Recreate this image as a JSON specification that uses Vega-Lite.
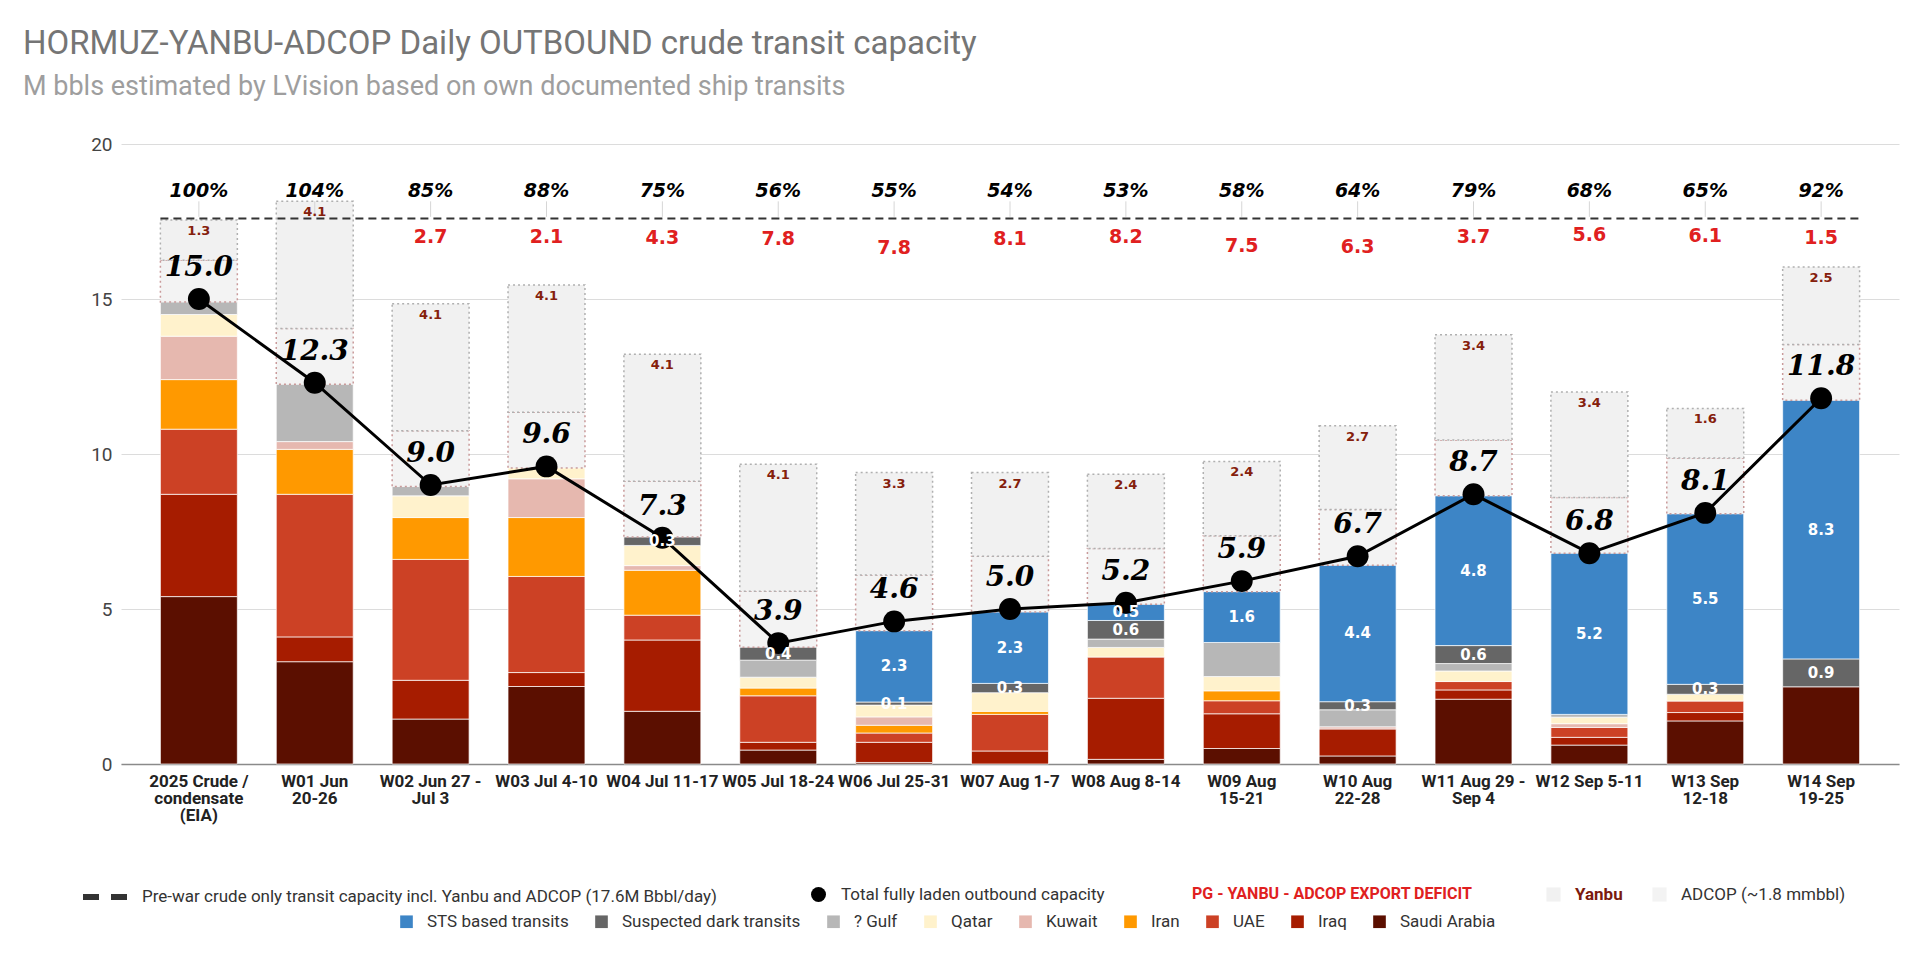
{
  "$schema": "https://vega.github.io/schema/vega-lite/v6.json",
  "width": 1778,
  "height": 620,
  "autosize": {"type": "none"},
  "padding": {"left": 121, "top": 144, "right": 21, "bottom": 192},
  "background": "white",
  "title": {
    "text": "HORMUZ-YANBU-ADCOP Daily OUTBOUND crude transit capacity",
    "subtitle": "M bbls estimated by LVision based on own documented ship transits",
    "anchor": "start",
    "frame": "group",
    "dx": -98,
    "offset": 35,
    "font": "Roboto",
    "fontSize": 33,
    "fontWeight": "normal",
    "color": "#757575",
    "subtitleFont": "Roboto",
    "subtitleFontSize": 27,
    "subtitleColor": "#9e9e9e",
    "subtitlePadding": 13
  },
  "config": {
    "view": {"stroke": null},
    "font": "Roboto",
    "legend": {"labelFont": "Roboto", "labelFontSize": 17, "labelColor": "#333333", "padding": 0, "labelLimit": 900}
  },
  "resolve": {"scale": {"color": "independent"}, "legend": {"color": "independent"}},
  "datasets": {
    "segments": [
      {"week": "2025 Crude /|condensate|(EIA)", "series": "Saudi Arabia", "value": 5.4},
      {"week": "2025 Crude /|condensate|(EIA)", "series": "Iraq", "value": 3.3},
      {"week": "2025 Crude /|condensate|(EIA)", "series": "UAE", "value": 2.1},
      {"week": "2025 Crude /|condensate|(EIA)", "series": "Iran", "value": 1.6},
      {"week": "2025 Crude /|condensate|(EIA)", "series": "Kuwait", "value": 1.4},
      {"week": "2025 Crude /|condensate|(EIA)", "series": "Qatar", "value": 0.7},
      {"week": "2025 Crude /|condensate|(EIA)", "series": "? Gulf", "value": 0.4},
      {"week": "2025 Crude /|condensate|(EIA)", "series": "ADCOP (~1.8 mmbbl)", "value": 1.35},
      {"week": "2025 Crude /|condensate|(EIA)", "series": "Yanbu", "value": 1.3},

      {"week": "W01 Jun|20-26", "series": "Saudi Arabia", "value": 3.3},
      {"week": "W01 Jun|20-26", "series": "Iraq", "value": 0.8},
      {"week": "W01 Jun|20-26", "series": "UAE", "value": 4.6},
      {"week": "W01 Jun|20-26", "series": "Iran", "value": 1.45},
      {"week": "W01 Jun|20-26", "series": "Kuwait", "value": 0.25},
      {"week": "W01 Jun|20-26", "series": "? Gulf", "value": 1.85},
      {"week": "W01 Jun|20-26", "series": "ADCOP (~1.8 mmbbl)", "value": 1.8},
      {"week": "W01 Jun|20-26", "series": "Yanbu", "value": 4.1},

      {"week": "W02 Jun 27 -|Jul 3", "series": "Saudi Arabia", "value": 1.45},
      {"week": "W02 Jun 27 -|Jul 3", "series": "Iraq", "value": 1.25},
      {"week": "W02 Jun 27 -|Jul 3", "series": "UAE", "value": 3.9},
      {"week": "W02 Jun 27 -|Jul 3", "series": "Iran", "value": 1.35},
      {"week": "W02 Jun 27 -|Jul 3", "series": "Qatar", "value": 0.7},
      {"week": "W02 Jun 27 -|Jul 3", "series": "? Gulf", "value": 0.3},
      {"week": "W02 Jun 27 -|Jul 3", "series": "ADCOP (~1.8 mmbbl)", "value": 1.8},
      {"week": "W02 Jun 27 -|Jul 3", "series": "Yanbu", "value": 4.1},
      {"week": "W02 Jun 27 -|Jul 3", "series": "PG - YANBU - ADCOP EXPORT DEFICIT", "value": 2.7},

      {"week": "W03 Jul 4-10", "series": "Saudi Arabia", "value": 2.5},
      {"week": "W03 Jul 4-10", "series": "Iraq", "value": 0.45},
      {"week": "W03 Jul 4-10", "series": "UAE", "value": 3.1},
      {"week": "W03 Jul 4-10", "series": "Iran", "value": 1.9},
      {"week": "W03 Jul 4-10", "series": "Kuwait", "value": 1.25},
      {"week": "W03 Jul 4-10", "series": "Qatar", "value": 0.35},
      {"week": "W03 Jul 4-10", "series": "ADCOP (~1.8 mmbbl)", "value": 1.8},
      {"week": "W03 Jul 4-10", "series": "Yanbu", "value": 4.1},
      {"week": "W03 Jul 4-10", "series": "PG - YANBU - ADCOP EXPORT DEFICIT", "value": 2.1},

      {"week": "W04 Jul 11-17", "series": "Saudi Arabia", "value": 1.7},
      {"week": "W04 Jul 11-17", "series": "Iraq", "value": 2.3},
      {"week": "W04 Jul 11-17", "series": "UAE", "value": 0.8},
      {"week": "W04 Jul 11-17", "series": "Iran", "value": 1.45},
      {"week": "W04 Jul 11-17", "series": "Kuwait", "value": 0.15},
      {"week": "W04 Jul 11-17", "series": "Qatar", "value": 0.65},
      {"week": "W04 Jul 11-17", "series": "Suspected dark transits", "value": 0.27},
      {"week": "W04 Jul 11-17", "series": "ADCOP (~1.8 mmbbl)", "value": 1.8},
      {"week": "W04 Jul 11-17", "series": "Yanbu", "value": 4.1},
      {"week": "W04 Jul 11-17", "series": "PG - YANBU - ADCOP EXPORT DEFICIT", "value": 4.3},

      {"week": "W05 Jul 18-24", "series": "Saudi Arabia", "value": 0.45},
      {"week": "W05 Jul 18-24", "series": "Iraq", "value": 0.25},
      {"week": "W05 Jul 18-24", "series": "UAE", "value": 1.5},
      {"week": "W05 Jul 18-24", "series": "Iran", "value": 0.25},
      {"week": "W05 Jul 18-24", "series": "Qatar", "value": 0.35},
      {"week": "W05 Jul 18-24", "series": "? Gulf", "value": 0.55},
      {"week": "W05 Jul 18-24", "series": "Suspected dark transits", "value": 0.42},
      {"week": "W05 Jul 18-24", "series": "ADCOP (~1.8 mmbbl)", "value": 1.8},
      {"week": "W05 Jul 18-24", "series": "Yanbu", "value": 4.1},
      {"week": "W05 Jul 18-24", "series": "PG - YANBU - ADCOP EXPORT DEFICIT", "value": 7.8},

      {"week": "W06 Jul 25-31", "series": "Saudi Arabia", "value": 0.05},
      {"week": "W06 Jul 25-31", "series": "Iraq", "value": 0.65},
      {"week": "W06 Jul 25-31", "series": "UAE", "value": 0.3},
      {"week": "W06 Jul 25-31", "series": "Iran", "value": 0.25},
      {"week": "W06 Jul 25-31", "series": "Kuwait", "value": 0.27},
      {"week": "W06 Jul 25-31", "series": "Qatar", "value": 0.38},
      {"week": "W06 Jul 25-31", "series": "Suspected dark transits", "value": 0.1},
      {"week": "W06 Jul 25-31", "series": "STS based transits", "value": 2.3},
      {"week": "W06 Jul 25-31", "series": "ADCOP (~1.8 mmbbl)", "value": 1.8},
      {"week": "W06 Jul 25-31", "series": "Yanbu", "value": 3.3},
      {"week": "W06 Jul 25-31", "series": "PG - YANBU - ADCOP EXPORT DEFICIT", "value": 7.8},

      {"week": "W07 Aug 1-7", "series": "Iraq", "value": 0.42},
      {"week": "W07 Aug 1-7", "series": "UAE", "value": 1.18},
      {"week": "W07 Aug 1-7", "series": "Iran", "value": 0.1},
      {"week": "W07 Aug 1-7", "series": "Qatar", "value": 0.6},
      {"week": "W07 Aug 1-7", "series": "Suspected dark transits", "value": 0.3},
      {"week": "W07 Aug 1-7", "series": "STS based transits", "value": 2.3},
      {"week": "W07 Aug 1-7", "series": "ADCOP (~1.8 mmbbl)", "value": 1.8},
      {"week": "W07 Aug 1-7", "series": "Yanbu", "value": 2.7},
      {"week": "W07 Aug 1-7", "series": "PG - YANBU - ADCOP EXPORT DEFICIT", "value": 8.1},

      {"week": "W08 Aug 8-14", "series": "Saudi Arabia", "value": 0.15},
      {"week": "W08 Aug 8-14", "series": "Iraq", "value": 1.97},
      {"week": "W08 Aug 8-14", "series": "UAE", "value": 1.33},
      {"week": "W08 Aug 8-14", "series": "Qatar", "value": 0.31},
      {"week": "W08 Aug 8-14", "series": "? Gulf", "value": 0.27},
      {"week": "W08 Aug 8-14", "series": "Suspected dark transits", "value": 0.6},
      {"week": "W08 Aug 8-14", "series": "STS based transits", "value": 0.52},
      {"week": "W08 Aug 8-14", "series": "ADCOP (~1.8 mmbbl)", "value": 1.8},
      {"week": "W08 Aug 8-14", "series": "Yanbu", "value": 2.4},
      {"week": "W08 Aug 8-14", "series": "PG - YANBU - ADCOP EXPORT DEFICIT", "value": 8.2},

      {"week": "W09 Aug|15-21", "series": "Saudi Arabia", "value": 0.5},
      {"week": "W09 Aug|15-21", "series": "Iraq", "value": 1.12},
      {"week": "W09 Aug|15-21", "series": "UAE", "value": 0.42},
      {"week": "W09 Aug|15-21", "series": "Iran", "value": 0.32},
      {"week": "W09 Aug|15-21", "series": "Qatar", "value": 0.46},
      {"week": "W09 Aug|15-21", "series": "? Gulf", "value": 1.1},
      {"week": "W09 Aug|15-21", "series": "STS based transits", "value": 1.64},
      {"week": "W09 Aug|15-21", "series": "ADCOP (~1.8 mmbbl)", "value": 1.8},
      {"week": "W09 Aug|15-21", "series": "Yanbu", "value": 2.4},
      {"week": "W09 Aug|15-21", "series": "PG - YANBU - ADCOP EXPORT DEFICIT", "value": 7.5},

      {"week": "W10 Aug|22-28", "series": "Saudi Arabia", "value": 0.26},
      {"week": "W10 Aug|22-28", "series": "Iraq", "value": 0.87},
      {"week": "W10 Aug|22-28", "series": "Kuwait", "value": 0.07},
      {"week": "W10 Aug|22-28", "series": "? Gulf", "value": 0.55},
      {"week": "W10 Aug|22-28", "series": "Suspected dark transits", "value": 0.26},
      {"week": "W10 Aug|22-28", "series": "STS based transits", "value": 4.4},
      {"week": "W10 Aug|22-28", "series": "ADCOP (~1.8 mmbbl)", "value": 1.8},
      {"week": "W10 Aug|22-28", "series": "Yanbu", "value": 2.7},
      {"week": "W10 Aug|22-28", "series": "PG - YANBU - ADCOP EXPORT DEFICIT", "value": 6.3},

      {"week": "W11 Aug 29 -|Sep 4", "series": "Saudi Arabia", "value": 2.09},
      {"week": "W11 Aug 29 -|Sep 4", "series": "Iraq", "value": 0.3},
      {"week": "W11 Aug 29 -|Sep 4", "series": "UAE", "value": 0.27},
      {"week": "W11 Aug 29 -|Sep 4", "series": "Qatar", "value": 0.34},
      {"week": "W11 Aug 29 -|Sep 4", "series": "? Gulf", "value": 0.24},
      {"week": "W11 Aug 29 -|Sep 4", "series": "Suspected dark transits", "value": 0.58},
      {"week": "W11 Aug 29 -|Sep 4", "series": "STS based transits", "value": 4.83},
      {"week": "W11 Aug 29 -|Sep 4", "series": "ADCOP (~1.8 mmbbl)", "value": 1.8},
      {"week": "W11 Aug 29 -|Sep 4", "series": "Yanbu", "value": 3.4},
      {"week": "W11 Aug 29 -|Sep 4", "series": "PG - YANBU - ADCOP EXPORT DEFICIT", "value": 3.7},

      {"week": "W12 Sep 5-11", "series": "Saudi Arabia", "value": 0.61},
      {"week": "W12 Sep 5-11", "series": "Iraq", "value": 0.25},
      {"week": "W12 Sep 5-11", "series": "UAE", "value": 0.32},
      {"week": "W12 Sep 5-11", "series": "Kuwait", "value": 0.12},
      {"week": "W12 Sep 5-11", "series": "Qatar", "value": 0.21},
      {"week": "W12 Sep 5-11", "series": "? Gulf", "value": 0.09},
      {"week": "W12 Sep 5-11", "series": "STS based transits", "value": 5.2},
      {"week": "W12 Sep 5-11", "series": "ADCOP (~1.8 mmbbl)", "value": 1.8},
      {"week": "W12 Sep 5-11", "series": "Yanbu", "value": 3.4},
      {"week": "W12 Sep 5-11", "series": "PG - YANBU - ADCOP EXPORT DEFICIT", "value": 5.6},

      {"week": "W13 Sep|12-18", "series": "Saudi Arabia", "value": 1.39},
      {"week": "W13 Sep|12-18", "series": "Iraq", "value": 0.27},
      {"week": "W13 Sep|12-18", "series": "UAE", "value": 0.37},
      {"week": "W13 Sep|12-18", "series": "Qatar", "value": 0.22},
      {"week": "W13 Sep|12-18", "series": "Suspected dark transits", "value": 0.32},
      {"week": "W13 Sep|12-18", "series": "STS based transits", "value": 5.5},
      {"week": "W13 Sep|12-18", "series": "ADCOP (~1.8 mmbbl)", "value": 1.8},
      {"week": "W13 Sep|12-18", "series": "Yanbu", "value": 1.6},
      {"week": "W13 Sep|12-18", "series": "PG - YANBU - ADCOP EXPORT DEFICIT", "value": 6.1},

      {"week": "W14 Sep|19-25", "series": "Saudi Arabia", "value": 2.49},
      {"week": "W14 Sep|19-25", "series": "Suspected dark transits", "value": 0.9},
      {"week": "W14 Sep|19-25", "series": "STS based transits", "value": 8.34},
      {"week": "W14 Sep|19-25", "series": "ADCOP (~1.8 mmbbl)", "value": 1.8},
      {"week": "W14 Sep|19-25", "series": "Yanbu", "value": 2.5},
      {"week": "W14 Sep|19-25", "series": "PG - YANBU - ADCOP EXPORT DEFICIT", "value": 1.5}
    ],
    "weeks": [
      {"week": "2025 Crude /|condensate|(EIA)", "total": 15.0, "pct": "100%"},
      {"week": "W01 Jun|20-26", "total": 12.3, "pct": "104%"},
      {"week": "W02 Jun 27 -|Jul 3", "total": 9.0, "pct": "85%"},
      {"week": "W03 Jul 4-10", "total": 9.6, "pct": "88%"},
      {"week": "W04 Jul 11-17", "total": 7.3, "pct": "75%"},
      {"week": "W05 Jul 18-24", "total": 3.9, "pct": "56%"},
      {"week": "W06 Jul 25-31", "total": 4.6, "pct": "55%"},
      {"week": "W07 Aug 1-7", "total": 5.0, "pct": "54%"},
      {"week": "W08 Aug 8-14", "total": 5.2, "pct": "53%"},
      {"week": "W09 Aug|15-21", "total": 5.9, "pct": "58%"},
      {"week": "W10 Aug|22-28", "total": 6.7, "pct": "64%"},
      {"week": "W11 Aug 29 -|Sep 4", "total": 8.7, "pct": "79%"},
      {"week": "W12 Sep 5-11", "total": 6.8, "pct": "68%"},
      {"week": "W13 Sep|12-18", "total": 8.1, "pct": "65%"},
      {"week": "W14 Sep|19-25", "total": 11.8, "pct": "92%"}
    ],
    "prewar": [
      {"label": "Pre-war crude only transit capacity incl. Yanbu and ADCOP (17.6M Bbbl/day)", "capacity": 17.6}
    ]
  },
  "layer": [
    {
      "data": {"name": "segments"},
      "transform": [
        {"stack": "value", "groupby": ["week"], "as": ["y0", "y1"]},
        {"filter": {"field": "series", "oneOf": ["Saudi Arabia", "Iraq", "UAE", "Iran", "Kuwait", "Qatar", "? Gulf", "Suspected dark transits", "STS based transits"]}}
      ],
      "mark": {"type": "bar", "stroke": "#ffffff", "strokeWidth": 1, "strokeOpacity": 0.7},
      "encoding": {
        "x": {
          "field": "week", "type": "nominal",
          "scale": {
            "domain": ["2025 Crude /|condensate|(EIA)", "W01 Jun|20-26", "W02 Jun 27 -|Jul 3", "W03 Jul 4-10", "W04 Jul 11-17", "W05 Jul 18-24", "W06 Jul 25-31", "W07 Aug 1-7", "W08 Aug 8-14", "W09 Aug|15-21", "W10 Aug|22-28", "W11 Aug 29 -|Sep 4", "W12 Sep 5-11", "W13 Sep|12-18", "W14 Sep|19-25"],
            "paddingInner": 0.336, "paddingOuter": 0.34
          },
          "axis": {
            "title": null, "labelExpr": "split(datum.label, '|')", "labelAngle": 0, "labelFont": "Roboto",
            "labelFontSize": 17, "labelFontWeight": "bold", "labelColor": "#222222", "labelLineHeight": 17,
            "labelPadding": 9, "labelLimit": 300, "labelOverlap": false, "ticks": false, "grid": false,
            "domainColor": "#8a8a8a", "domainWidth": 1.5
          }
        },
        "y": {
          "field": "y0", "type": "quantitative",
          "scale": {"domain": [0, 20], "nice": false},
          "axis": {
            "title": null, "values": [0, 5, 10, 15, 20], "grid": true, "gridColor": "#dcdcdc", "domain": false,
            "ticks": false, "labelFont": "Roboto", "labelFontSize": 19, "labelColor": "#444444", "labelPadding": 9
          }
        },
        "y2": {"field": "y1"},
        "color": {
          "field": "series", "type": "nominal",
          "scale": {
            "domain": ["STS based transits", "Suspected dark transits", "? Gulf", "Qatar", "Kuwait", "Iran", "UAE", "Iraq", "Saudi Arabia"],
            "range": ["#3d85c6", "#666666", "#b7b7b7", "#fff2cc", "#e6b8af", "#ff9900", "#cc4125", "#a61c00", "#5b0f00"]
          },
          "legend": {
            "title": null, "orient": "none", "legendX": 277, "legendY": 769, "direction": "horizontal",
            "symbolType": "square", "symbolSize": 160, "labelOffset": 12, "columnPadding": 24, "symbolStrokeWidth": 0
          }
        }
      }
    },
    {
      "data": {"name": "segments"},
      "transform": [
        {"stack": "value", "groupby": ["week"], "as": ["y0", "y1"]},
        {"filter": {"field": "series", "equal": "ADCOP (~1.8 mmbbl)"}}
      ],
      "mark": {"type": "bar", "stroke": "#c99a9a", "strokeWidth": 1.5, "strokeDash": [2, 3]},
      "encoding": {
        "x": {"field": "week", "type": "nominal"},
        "y": {"field": "y0", "type": "quantitative"},
        "y2": {"field": "y1"},
        "color": {
          "field": "series", "type": "nominal",
          "scale": {"domain": ["ADCOP (~1.8 mmbbl)"], "range": ["#f3f3f3"]},
          "legend": {"title": null, "orient": "none", "legendX": 1530, "legendY": 742, "symbolType": "square", "symbolSize": 200, "labelOffset": 13, "symbolStrokeWidth": 0}
        }
      }
    },
    {
      "data": {"name": "segments"},
      "transform": [
        {"stack": "value", "groupby": ["week"], "as": ["y0", "y1"]},
        {"filter": {"field": "series", "equal": "Yanbu"}}
      ],
      "mark": {"type": "bar", "stroke": "#b0b0b0", "strokeWidth": 1.5, "strokeDash": [2, 3]},
      "encoding": {
        "x": {"field": "week", "type": "nominal"},
        "y": {"field": "y0", "type": "quantitative"},
        "y2": {"field": "y1"},
        "color": {
          "field": "series", "type": "nominal",
          "scale": {"domain": ["Yanbu"], "range": ["#f1f1f1"]},
          "legend": {"title": null, "orient": "none", "legendX": 1424, "legendY": 742, "symbolType": "square", "symbolSize": 200, "labelOffset": 13, "symbolStrokeWidth": 0, "labelColor": "#7b1a0e", "labelFontWeight": "bold"}
        }
      }
    },
    {
      "data": {"name": "segments"},
      "transform": [
        {"stack": "value", "groupby": ["week"], "as": ["y0", "y1"]},
        {"filter": {"field": "series", "equal": "PG - YANBU - ADCOP EXPORT DEFICIT"}}
      ],
      "mark": {"type": "bar", "opacity": 0},
      "encoding": {
        "x": {"field": "week", "type": "nominal"},
        "y": {"field": "y0", "type": "quantitative"},
        "y2": {"field": "y1"},
        "color": {
          "field": "series", "type": "nominal",
          "scale": {"domain": ["PG - YANBU - ADCOP EXPORT DEFICIT"], "range": ["#ffffff"]},
          "legend": {"title": null, "orient": "none", "legendX": 1048, "legendY": 742, "symbolType": "square", "symbolSize": 160, "labelOffset": 7, "symbolStrokeWidth": 0, "labelColor": "#e02020", "labelFontWeight": "bold", "labelFontSize": 16}
        }
      }
    },
    {
      "data": {"name": "prewar"},
      "mark": {"type": "rule", "strokeWidth": 2, "strokeDash": [8, 5]},
      "encoding": {
        "x": {"datum": "2025 Crude /|condensate|(EIA)", "type": "nominal", "bandPosition": 0},
        "x2": {"datum": "W14 Sep|19-25", "bandPosition": 1},
        "y": {"field": "capacity", "type": "quantitative"},
        "color": {
          "field": "label", "type": "nominal",
          "scale": {"range": ["#333333"]},
          "legend": {"title": null, "orient": "none", "legendX": -41, "legendY": 727, "symbolType": "stroke", "symbolSize": 2116, "symbolDash": [16, 12], "symbolStrokeWidth": 6, "labelOffset": 10}
        }
      }
    },
    {
      "data": {"name": "weeks"},
      "mark": {"type": "rule", "stroke": "#d6d6d6", "strokeWidth": 1},
      "encoding": {
        "x": {"field": "week", "type": "nominal"},
        "y": {"datum": 17.65},
        "y2": {"datum": 18.15}
      }
    },
    {
      "data": {"name": "weeks"},
      "mark": {"type": "line", "stroke": "#000000", "strokeWidth": 3},
      "encoding": {
        "x": {"field": "week", "type": "nominal"},
        "y": {"field": "total", "type": "quantitative"}
      }
    },
    {
      "data": {"name": "weeks"},
      "mark": {"type": "point", "filled": true, "opacity": 1, "size": 480},
      "encoding": {
        "x": {"field": "week", "type": "nominal"},
        "y": {"field": "total", "type": "quantitative"},
        "color": {
          "datum": "Total fully laden outbound capacity", "type": "nominal",
          "scale": {"range": ["#000000"]},
          "legend": {"title": null, "orient": "none", "legendX": 689, "legendY": 742, "symbolType": "circle", "symbolSize": 225, "labelOffset": 14}
        }
      }
    },
    {
      "data": {"name": "segments"},
      "transform": [
        {"stack": "value", "groupby": ["week"], "as": ["y0", "y1"]},
        {"filter": {"field": "series", "oneOf": ["Suspected dark transits", "STS based transits"]}},
        {"calculate": "(datum.y0 + datum.y1) / 2", "as": "ymid"}
      ],
      "mark": {"type": "text", "font": "DejaVu Sans", "fontWeight": "bold", "fontSize": 15, "color": "#ffffff", "baseline": "middle"},
      "encoding": {
        "x": {"field": "week", "type": "nominal"},
        "y": {"field": "ymid", "type": "quantitative"},
        "text": {"field": "value", "type": "quantitative", "format": ".1f"}
      }
    },
    {
      "data": {"name": "segments"},
      "transform": [
        {"stack": "value", "groupby": ["week"], "as": ["y0", "y1"]},
        {"filter": {"field": "series", "equal": "Yanbu"}}
      ],
      "mark": {"type": "text", "font": "DejaVu Sans", "fontWeight": "bold", "fontSize": 13, "color": "#85200c", "baseline": "middle", "dy": 11},
      "encoding": {
        "x": {"field": "week", "type": "nominal"},
        "y": {"field": "y1", "type": "quantitative"},
        "text": {"field": "value", "type": "quantitative", "format": ".1f"}
      }
    },
    {
      "data": {"name": "segments"},
      "transform": [
        {"stack": "value", "groupby": ["week"], "as": ["y0", "y1"]},
        {"filter": {"field": "series", "equal": "PG - YANBU - ADCOP EXPORT DEFICIT"}}
      ],
      "mark": {"type": "text", "font": "DejaVu Sans", "fontWeight": "bold", "fontSize": 19, "color": "#e02020", "baseline": "middle", "dy": 17},
      "encoding": {
        "x": {"field": "week", "type": "nominal"},
        "y": {"field": "y1", "type": "quantitative"},
        "text": {"field": "value", "type": "quantitative", "format": ".1f"}
      }
    },
    {
      "data": {"name": "weeks"},
      "mark": {"type": "text", "font": "DejaVu Sans", "fontWeight": "bold", "fontStyle": "italic", "fontSize": 19, "color": "#000000", "baseline": "middle"},
      "encoding": {
        "x": {"field": "week", "type": "nominal"},
        "y": {"datum": 18.5},
        "text": {"field": "pct", "type": "nominal"}
      }
    },
    {
      "data": {"name": "weeks"},
      "mark": {"type": "text", "font": "DejaVu Serif", "fontWeight": "bold", "fontStyle": "italic", "fontSize": 28, "color": "#000000", "baseline": "middle", "dy": -31},
      "encoding": {
        "x": {"field": "week", "type": "nominal"},
        "y": {"field": "total", "type": "quantitative"},
        "text": {"field": "total", "type": "quantitative", "format": ".1f"}
      }
    }
  ]
}
